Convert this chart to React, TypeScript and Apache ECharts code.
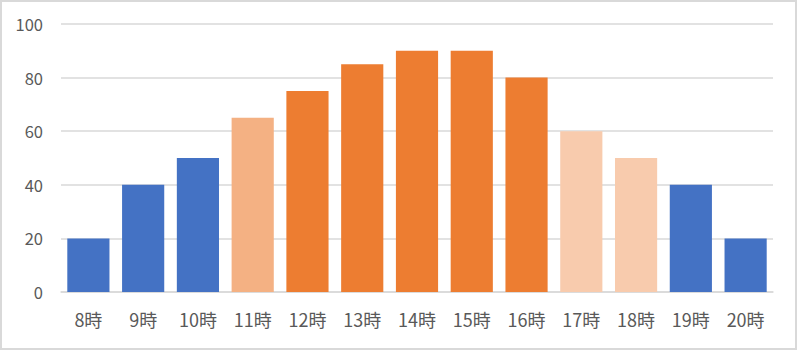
import React, { useEffect, useRef } from "react";
import * as echarts from "echarts";

const categories = ["8時", "9時", "10時", "11時", "12時", "13時", "14時", "15時", "16時", "17時", "18時", "19時", "20時"];
const values = [20, 40, 50, 65, 75, 85, 90, 90, 80, 60, 50, 40, 20];
const barColors = ["#4472C4", "#4472C4", "#4472C4", "#F4B183", "#ED7D31", "#ED7D31", "#ED7D31", "#ED7D31", "#ED7D31", "#F8CBAD", "#F8CBAD", "#4472C4", "#4472C4"];

export default function App() {
  const ref = useRef<HTMLDivElement>(null);
  useEffect(() => {
    if (!ref.current) return;
    const chart = echarts.init(ref.current, null, { renderer: "svg" });
    const font = "'Noto Sans CJK JP', 'Noto Sans', sans-serif";
    chart.setOption({
      animation: false,
      textStyle: { fontFamily: font },
      grid: { left: 61, right: 24, top: 24, bottom: 58, containLabel: false },
      xAxis: {
        type: "category",
        data: categories,
        axisLine: { lineStyle: { color: "#D9D9D9", width: 1.5 } },
        axisTick: { show: false },
        axisLabel: { color: "#595959", fontSize: 18, margin: 18, fontFamily: font },
      },
      yAxis: {
        type: "value",
        min: 0,
        max: 100,
        interval: 20,
        axisLine: { show: false },
        axisTick: { show: false },
        splitLine: { lineStyle: { color: "#D9D9D9", width: 1.5 } },
        axisLabel: { color: "#595959", fontSize: 16.5, margin: 18, fontFamily: font },
      },
      series: [
        {
          type: "bar",
          barCategoryGap: "23%",
          data: values.map((v, i) => ({ value: v, itemStyle: { color: barColors[i] } })),
        },
      ],
    });
    return () => chart.dispose();
  }, []);
  return (
    <div
      style={{
        position: "absolute",
        left: 0,
        top: 0,
        width: 797,
        height: 350,
        background: "#fff",
      }}
    >
      <div
        style={{
          position: "absolute",
          left: 0,
          top: 0,
          width: 793,
          height: 346,
          border: "2px solid #D9D9D9",
        }}
      />
      <div ref={ref} style={{ position: "absolute", left: 0, top: 0, width: 797, height: 350 }} />
    </div>
  );
}
